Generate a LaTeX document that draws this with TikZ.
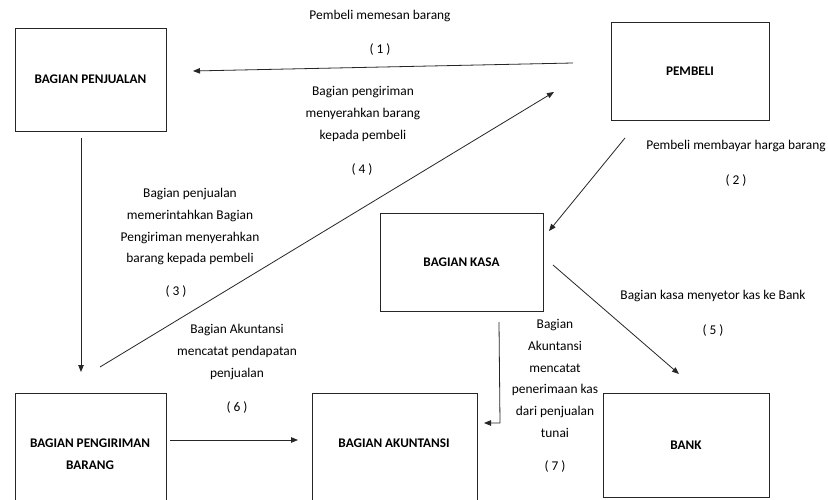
\documentclass[tikz,border=0pt]{standalone}
\usepackage{fontspec}
\setmainfont{Carlito}
\usetikzlibrary{arrows.meta}
\begin{document}
\begin{tikzpicture}[x=1pt,y=-1pt,
  box/.style={draw=black!85,line width=0.9pt,inner sep=0pt,align=center,
    font=\bfseries\fontsize{13.2}{22}\selectfont},
  boxtext/.style={inner sep=0pt,align=center,font=\bfseries\fontsize{13.2}{22}\selectfont},
  lbl/.style={inner sep=0pt,align=center,font=\fontsize{13.4}{21.8}\selectfont},
  conn/.style={draw=black!85,line width=0.8pt,-{Triangle[length=7pt,width=5.5pt]}},
  plain/.style={draw=black!85,line width=0.8pt}]
\useasboundingbox[fill=white] (0,0) rectangle (828,500);
% boxes
\node (penj) [box,minimum width=151,minimum height=103] at (90.5,79.5) {BAGIAN PENJUALAN};
\node (pemb) [box,minimum width=158,minimum height=98] at (690,71) {PEMBELI};
\node (kasa) [box,minimum width=163,minimum height=98] at (461.5,262) {BAGIAN KASA};
\node (bank) [box,minimum width=166,minimum height=104] at (686,445) {BANK};
\node (peng) [box,minimum width=151,minimum height=130] at (90.5,458) {};
\node (akun) [box,minimum width=165,minimum height=130] at (394.5,458) {};
\node (pengt) [boxtext] at (90,454) {BAGIAN PENGIRIMAN\\BARANG};
\node (akunt) [boxtext] at (394,443) {BAGIAN AKUNTANSI};
% connector end points
\coordinate (a1s) at (573,63);   \coordinate (a1e) at (193,71);
\coordinate (a3s) at (81,138);   \coordinate (a3e) at (81,372);
\coordinate (a4s) at (100,367);  \coordinate (a4e) at (554,92);
\coordinate (a2s) at (625,138);  \coordinate (a2e) at (549,231);
\coordinate (a5s) at (553,265);  \coordinate (a5e) at (679,374);
\coordinate (a7s) at (499,322);  \coordinate (a7c) at (500,423); \coordinate (a7e) at (484,423);
\coordinate (a6s) at (170,440);  \coordinate (a6e) at (298,440);
% connectors
\draw[conn] (a1s) -- (a1e);
\draw[conn] (a3s) -- (a3e);
\draw[conn] (a4s) -- (a4e);
\draw[conn] (a2s) -- (a2e);
\draw[conn] (a5s) -- (a5e);
\draw[conn] (a7s) -- (a7c) -- (a7e);
\draw[conn] (a6s) -- (a6e);
% labels
\node (l1) [lbl] at (380,16) {Pembeli memesan barang};
\node (n1) [lbl] at (380,50) {( 1 )};
\node (l4) [lbl,anchor=north] at (363,86) {Bagian pengiriman\\menyerahkan barang\\kepada pembeli};
\node (n4) [lbl] at (362,170) {( 4 )};
\node (l3) [lbl,anchor=north] at (190,188) {Bagian penjualan\\memerintahkan Bagian\\Pengiriman menyerahkan\\barang kepada pembeli};
\node (n3) [lbl] at (176,292) {( 3 )};
\node (l2) [lbl] at (736,146) {Pembeli membayar harga barang};
\node (n2) [lbl] at (736,181) {( 2 )};
\node (l5) [lbl] at (713,296) {Bagian kasa menyetor kas ke Bank};
\node (n5) [lbl] at (713,331) {( 5 )};
\node (l6) [lbl,anchor=north] at (237,324) {Bagian Akuntansi\\mencatat pendapatan\\penjualan};
\node (n6) [lbl] at (237,408) {( 6 )};
\node (l7) [lbl,anchor=north] at (555,319) {Bagian\\Akuntansi\\mencatat\\penerimaan kas\\dari penjualan\\tunai};
\node (n7) [lbl] at (555,467) {( 7 )};
\end{tikzpicture}
\end{document}
